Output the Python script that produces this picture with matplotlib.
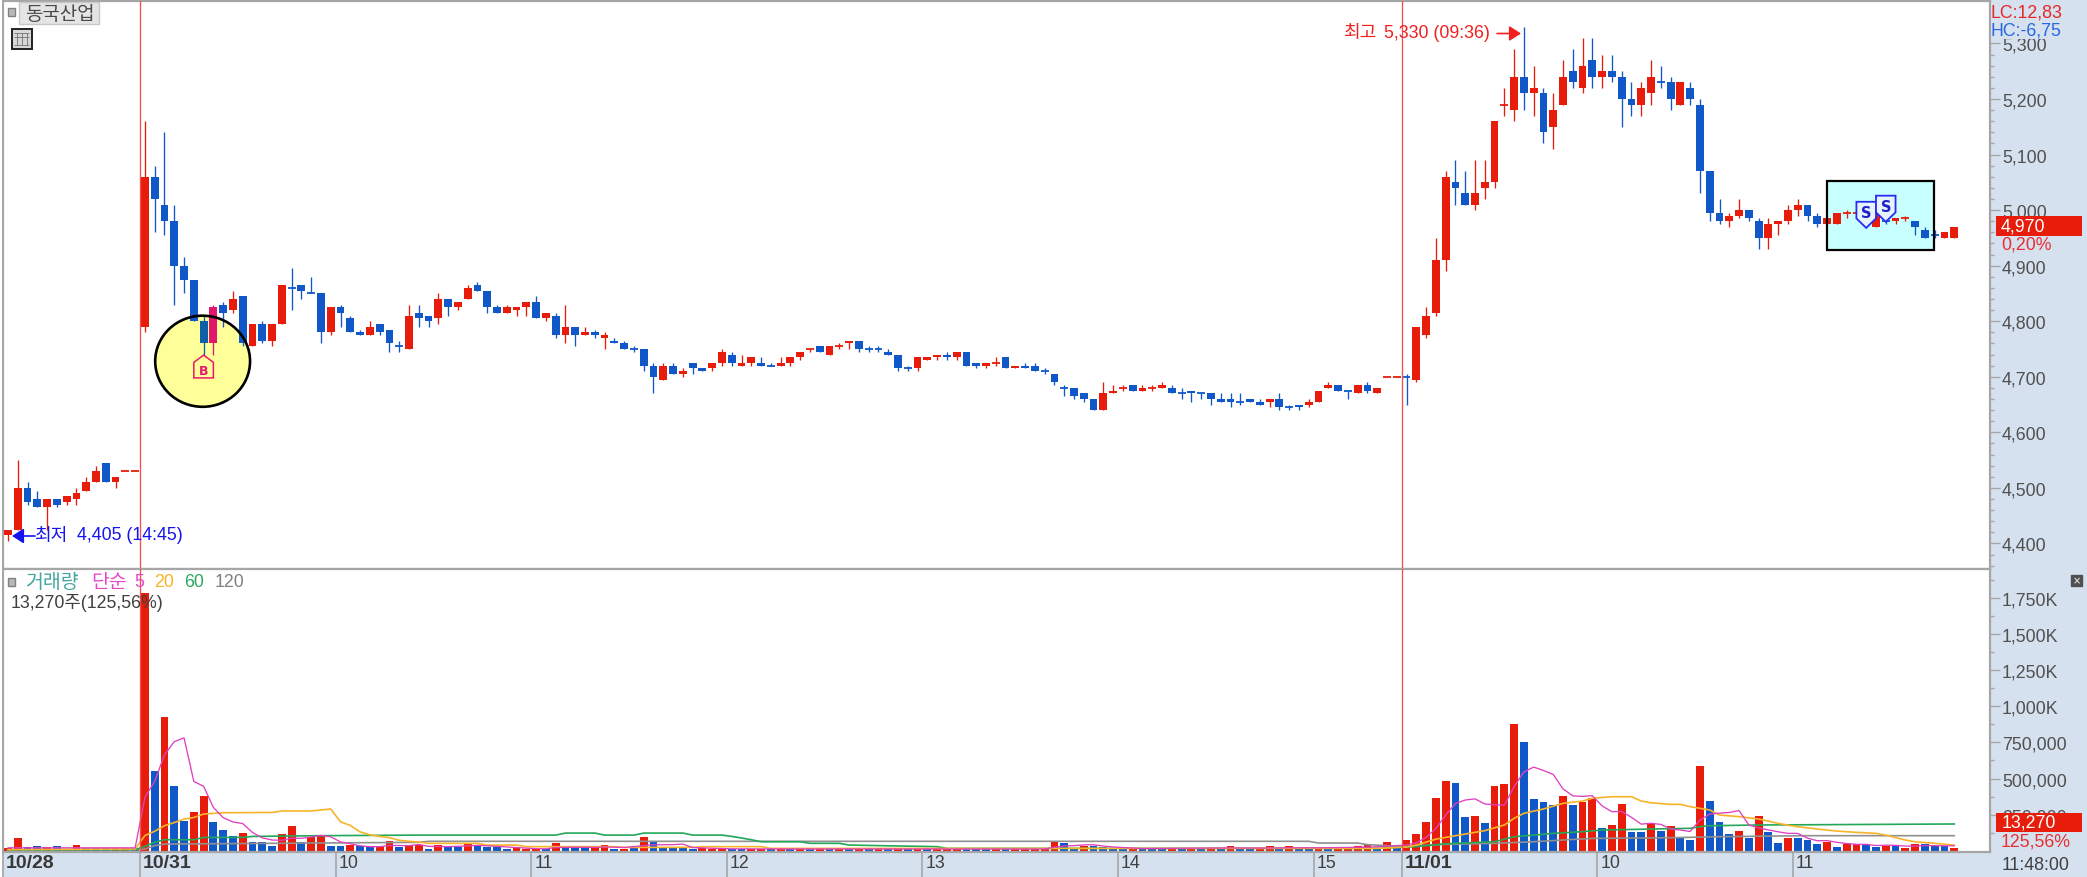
import numpy as np
import matplotlib
matplotlib.use("Agg")
import matplotlib.pyplot as plt
from matplotlib.patches import Rectangle, Ellipse, Polygon
from matplotlib.transforms import ScaledTranslation

W, H = 2087, 878
LATIN = ["Liberation Sans", "Noto Sans CJK KR", "DejaVu Sans"]
KOREAN = ["Noto Sans CJK KR", "DejaVu Sans"]
plt.rcParams["font.family"] = LATIN

# 1 minute candles, body top / body bottom / high / low
tops = [4425,4500,4500,4480,4480,4480,4485,4490,4510,4530,
        4545,4520,4530,4530,5060,5060,5010,4980,4900,4875,
        4800,4825,4830,4840,4845,4795,4795,4795,4865,4860,
        4865,4850,4850,4825,4825,4805,4780,4790,4795,4785,
        4755,4810,4815,4810,4840,4840,4835,4860,4865,4855,
        4825,4825,4825,4835,4835,4815,4810,4790,4790,4780,
        4780,4775,4765,4760,4750,4750,4720,4720,4720,4710,
        4725,4715,4725,4745,4740,4725,4735,4725,4720,4725,
        4735,4745,4750,4755,4755,4755,4765,4765,4750,4750,
        4745,4740,4715,4735,4735,4740,4740,4745,4745,4725,
        4725,4725,4735,4720,4720,4720,4710,4705,4680,4680,
        4670,4660,4670,4675,4680,4685,4680,4680,4685,4680,
        4670,4675,4670,4670,4660,4660,4655,4660,4655,4660,
        4660,4645,4650,4655,4675,4685,4685,4675,4685,4685,
        4680,4700,4700,4700,4790,4810,4910,5060,5050,5030,
        5030,5050,5160,5190,5240,5240,5220,5210,5180,5240,
        5250,5260,5270,5250,5250,5240,5200,5220,5240,5230,
        5230,5230,5220,5190,5070,4995,4990,5000,5000,4980,
        4975,4980,5000,5010,5010,4990,4985,4995,4995,4995,
        4990,4995,4980,4985,4985,4980,4965,4955,4960,4970]
bots = [4415,4425,4475,4465,4465,4470,4475,4480,4495,4510,
        4510,4510,4530,4530,4790,5020,4980,4900,4875,4800,
        4760,4760,4815,4820,4760,4755,4765,4765,4795,4860,
        4855,4850,4780,4780,4815,4780,4775,4775,4780,4760,
        4755,4750,4805,4800,4805,4825,4825,4840,4855,4825,
        4815,4815,4820,4825,4805,4805,4775,4775,4775,4775,
        4775,4770,4760,4750,4750,4720,4700,4695,4705,4705,
        4715,4710,4715,4725,4725,4720,4725,4720,4720,4720,
        4725,4735,4750,4745,4740,4755,4760,4750,4750,4750,
        4740,4715,4715,4715,4730,4735,4735,4735,4720,4720,
        4720,4725,4715,4715,4715,4710,4710,4690,4680,4665,
        4660,4640,4640,4670,4680,4675,4675,4680,4680,4670,
        4670,4670,4670,4660,4655,4655,4655,4655,4650,4655,
        4645,4645,4645,4650,4655,4680,4675,4675,4670,4675,
        4670,4700,4700,4700,4695,4775,4815,4910,5040,5010,
        5010,5040,5050,5190,5180,5210,5210,5140,5150,5190,
        5230,5220,5240,5240,5240,5200,5190,5190,5210,5230,
        5200,5190,5200,5070,4995,4980,4980,4990,4985,4950,
        4950,4975,4980,5000,4990,4975,4975,4975,4995,4995,
        4990,4970,4980,4980,4985,4970,4950,4955,4950,4950]
highs = [4425,4550,4510,4495,4480,4480,4485,4500,4520,4540,
         4545,4520,4530,4530,5160,5080,5140,5010,4915,4875,
         4810,4830,4835,4855,4845,4795,4800,4795,4865,4895,
         4865,4880,4850,4825,4830,4810,4785,4800,4795,4785,
         4765,4830,4830,4810,4850,4840,4835,4865,4870,4855,
         4830,4830,4825,4835,4845,4815,4815,4830,4790,4790,
         4785,4780,4770,4765,4755,4750,4725,4725,4725,4715,
         4725,4715,4725,4750,4745,4740,4735,4735,4725,4735,
         4735,4745,4750,4755,4755,4760,4765,4765,4755,4755,
         4750,4740,4720,4735,4735,4740,4745,4745,4745,4725,
         4725,4735,4735,4720,4725,4725,4715,4705,4685,4680,
         4670,4660,4690,4685,4685,4685,4685,4685,4690,4685,
         4680,4675,4670,4670,4670,4670,4670,4660,4660,4660,
         4670,4650,4650,4660,4675,4690,4685,4675,4685,4690,
         4680,4700,4700,4705,4790,4825,4950,5070,5090,5070,
         5090,5090,5160,5220,5290,5330,5260,5220,5210,5270,
         5290,5310,5310,5280,5280,5250,5230,5230,5270,5260,
         5240,5230,5230,5200,5070,5020,4995,5020,5000,4985,
         4985,4980,5010,5020,5010,4995,4985,4995,5000,4995,
         4995,4995,4980,4985,4990,4980,4970,4965,4960,4970]
lows = [4405,4425,4470,4465,4425,4465,4470,4470,4495,4510,
        4510,4500,4530,4530,4780,4960,4955,4830,4850,4800,
        4740,4740,4790,4815,4755,4755,4760,4755,4795,4820,
        4840,4850,4760,4775,4790,4780,4775,4775,4775,4745,
        4745,4750,4790,4790,4795,4810,4820,4840,4855,4815,
        4815,4815,4810,4810,4805,4800,4770,4760,4755,4775,
        4770,4750,4760,4750,4745,4710,4670,4695,4705,4700,
        4705,4710,4710,4720,4720,4720,4720,4720,4720,4720,
        4720,4730,4745,4745,4740,4750,4750,4745,4745,4745,
        4740,4710,4710,4710,4730,4730,4730,4730,4720,4715,
        4715,4720,4715,4715,4715,4710,4705,4685,4665,4660,
        4655,4640,4640,4670,4675,4675,4675,4675,4680,4670,
        4660,4655,4660,4650,4655,4645,4650,4655,4650,4645,
        4640,4640,4640,4645,4655,4680,4675,4660,4670,4670,
        4670,4700,4700,4650,4690,4770,4810,4890,5010,5010,
        5000,5020,5040,5170,5160,5180,5170,5120,5110,5190,
        5220,5210,5220,5220,5230,5150,5170,5170,5190,5220,
        5180,5190,5190,5030,4980,4975,4970,4985,4980,4930,
        4930,4955,4975,4990,4980,4970,4975,4975,4985,4995,
        4990,4970,4975,4975,4980,4955,4950,4950,4950,4950]
candle_side = ("RRBBRBRRRR" "BRRRRBBBBB" "BRBRBRBRRB" "BBBRBBBRBB" "BRBBRBRRBB"
               "BRRRBRBRBR" "BRBBBBBRBR" "BBRRBRRBBR" "RRRBRRRBBB" "BBBRRRBRBB"
               "RRBRBBBBBB" "BBRRRBRRRB" "BBBBBBBBBR" "BBBRRRBBRB" "RRRBRRRRBB"
               "RRRRRBRBRR" "BRBRBBBRRB" "BRBBBBRRBB" "RRRRBBRRRR" "BRBRRBBBRR")

# volume in thousand shares
volumes = [18,90,23,35,28,35,12,42,16,16,
           16,16,16,16,1785,550,924,446,208,270,
           381,196,143,104,122,58,58,30,113,173,
           58,92,108,30,30,39,30,23,23,69,
           23,39,39,12,39,23,23,51,35,23,
           23,12,16,12,12,12,55,23,23,23,
           23,39,12,12,16,92,65,23,23,23,
           12,16,12,12,12,12,12,12,12,16,
           12,16,12,12,12,12,12,12,12,12,
           12,12,12,12,12,16,12,12,12,12,
           12,12,12,12,12,12,12,65,51,18,
           35,35,23,12,12,12,12,12,12,12,
           12,12,12,12,12,30,12,12,12,30,
           12,30,12,12,12,12,12,12,30,39,
           12,58,20,72,115,200,367,483,471,233,
           242,192,450,459,877,753,358,335,316,376,
           316,335,363,159,178,326,129,129,187,139,
           171,90,76,586,346,201,118,139,88,242,
           132,55,85,85,76,44,62,25,44,44,
           44,25,35,35,21,44,44,30,30,20]
volume_side = ("RRBBRBRRBB" "BRRBRBRBBR" "RBBBRBBBRR" "BRRBBRBBRR" "BRRBRBBRBB"
               "BBRRRBRBBB" "RRBRBRBBBB" "BRRRBBRRBR" "BRBRBRBRBR" "BRBRBRRRBB"
               "BRBRRRRRBB" "RBBBBRBBBR" "BRBRBRBBRR" "BRBBRBRRRR" "BRBRRRRRBB"
               "RBRRRBBBBR" "BRRBRRBBRB" "RBBRBBBRBR" "BBRBBBRBRR" "BBRBRRBBBR")

# moving averages (candle index, thousand shares)
ma5_x = [0,13,14,15,16,17,18,19,20,21,22,23,24,25,26,27,28,29,30,31,32,33,34,35,36,37,38,39,40,41,42,
         43,45,47,48,50,52,54,55,56,58,60,61,63,65,66,68,69,70,72,74,80,106,107,108,109,110,111,112,113,114,116,
         125,128,131,134,139,143,144,145,146,147,148,149,150,151,152,153,154,155,156,157,158,159,160,161,162,163,164,
         165,166,167,168,169,170,171,172,173,174,175,176,177,178,179,180,181,182,183,184,185,186,187,188,189,190,191,
         192,193,194,195,196,197,198,199]
ma5_y = [20,20,370,480,665,755,782,480,446,300,229,199,188,126,89,74,72,86,86,95,106,96,61,48,34,28,28,36,36,35,43,
         30,28,33,37,30,22,14,13,22,24,23,26,22,35,41,42,46,22,17,13,12,12,24,33,35,40,41,32,26,22,15,
         19,18,20,20,24,39,55,92,154,247,327,351,359,324,318,315,444,546,579,556,528,428,380,376,381,310,270,
         272,231,184,190,182,151,143,133,212,254,260,265,278,178,158,144,131,120,120,87,69,70,58,50,44,44,36,
         38,37,32,32,36,35,34,34]
ma20_x = [0,13,14,15,16,17,18,19,20,22,27,28,31,33,34,35,36,37,38,39,40,41,42,43,48,49,52,53,62,63,70,71,77,78,
          140,143,144,146,148,150,151,153,154,155,157,159,161,162,164,166,167,168,170,171,172,174,175,177,179,180,
          181,183,185,187,189,191,192,194,195,197,199]
ma20_y = [8,12,105,135,173,195,219,230,254,263,265,275,275,289,200,175,130,110,100,90,72,65,60,51,51,39,39,28,28,23,23,
          28,28,16,16,25,39,80,104,127,139,178,224,259,289,328,344,363,374,374,344,332,321,321,305,282,247,236,219,205,
          189,166,150,136,127,120,108,74,62,51,39]
ma60_x = [0,13,14,15,16,19,20,24,25,32,42,56,57,60,61,64,65,69,70,73,74,75,76,77,81,82,85,86,95,96,140,144,147,152,
          154,156,158,161,163,168,172,173,174,179,199]
ma60_y = [6,8,30,58,76,76,92,92,99,104,108,108,122,122,108,108,122,122,108,108,99,88,76,62,62,51,51,39,28,16,16,28,48,62,
          97,108,120,132,143,150,155,166,173,178,185]
ma120_x = [0,13,14,15,16,42,43,133,134,138,139,143,144,147,152,156,159,162,170,175,184,199]
ma120_y = [5,6,12,35,46,58,65,65,53,53,42,28,35,44,51,62,74,85,90,97,104,104]

# price axis and volume axis
price_ticks = list(range(4400, 5301, 100))
price_minor = list(range(4360, 5361, 20))
volume_ticks = [250, 500, 750, 1000, 1250, 1500, 1750]
volume_minor = [125, 375, 625, 875, 1125, 1375, 1625, 1875]
volume_labels = ["250,000", "500,000", "750,000", "1,000K", "1,250K", "1,500K", "1,750K"]
date_pos = [0, 14, 34, 54, 74, 94, 114, 134, 143, 163, 183]
date_labels = ["10/28", "10/31", "10", "11", "12", "13", "14", "15", "11/01", "10", "11"]
date_bold = ["10/28", "10/31", "11/01"]
open_idx = [14, 143]

buy_idx, buy_price = [20], [4739]
sell_idx, sell_price = [190, 192], [4968, 4979]

RED, BLUE = "#E81C0A", "#1058C8"
PANEL = "#D6E1EF"
FRAME = "#A6A6A6"
TEXT = "#505050"
TS = 12.8
n = len(tops)
x = np.arange(n)

fig = plt.figure(figsize=(W / 100, H / 100), dpi=100, facecolor=PANEL)


def box(x0, y0, x1, y1):
    return [x0 / W, 1 - y1 / H, (x1 - x0) / W, (y1 - y0) / H]


LEFT, RIGHT = 3, 1990
ax = fig.add_axes(box(LEFT, 2, RIGHT, 570))
ax2 = fig.add_axes(box(LEFT, 570, RIGHT, 853))
ov = fig.add_axes([0, 0, 1, 1], zorder=10)
ov.set_xlim(0, W)
ov.set_ylim(H, 0)
ov.axis("off")
ov.patch.set_alpha(0)

xlim = ((LEFT - 8) / 9.78, (RIGHT - 8) / 9.78)
ax.set_xlim(xlim)
ax.set_ylim(5200 - (570 - 100) / 0.5556, 5200 + (100 - 2) / 0.5556)
ax2.set_xlim(xlim)
ax2.set_ylim(-(853 - 851.7) * 6.927, (851.7 - 570) * 6.927)

# signal circle and box go under the candles
ax.add_patch(Ellipse((19.9, 4728), 9.7, 164, fc="#FFFF99", ec="none", zorder=1))
ax.add_patch(Rectangle((185.95, 4929), 10.95, 124, fc="#C8FFFF", ec="none", zorder=1))

tint = {20: "#1060A8", 21: "#E0186C"}
for i in x:
    col = RED if candle_side[i] == "R" else BLUE
    col = tint.get(i, col)
    if highs[i] > lows[i]:
        ax.vlines(i, lows[i], highs[i], color=col, lw=0.95, zorder=2)
    if tops[i] > bots[i]:
        ax.bar(i, tops[i] - bots[i], bottom=bots[i], width=0.8, color=col, lw=0, zorder=3)
    else:
        ax.hlines(tops[i], i - 0.4, i + 0.4, color=col, lw=1.3, zorder=3)

ax.add_patch(Ellipse((19.9, 4728), 9.7, 164, fc="none", ec="black", lw=1.9, zorder=4))
ax.add_patch(Rectangle((185.95, 4929), 10.95, 124, fc="none", ec="black", lw=1.6, zorder=4))

for i, p in zip(buy_idx, buy_price):
    ax.add_patch(Polygon([(i, p), (i + 1, p - 13), (i + 1, p - 41), (i - 1, p - 41), (i - 1, p - 13)],
                         fc="none", ec="#E8186C", lw=1.1, zorder=5))
    ax.text(i, p - 27, "B", color="#E8186C", fontsize=9, fontweight="bold", ha="center", va="center",
            family="DejaVu Sans", zorder=6)
for i, p in zip(sell_idx, sell_price):
    ax.add_patch(Polygon([(i, p), (i + 1, p + 17), (i + 1, p + 47), (i - 1, p + 47), (i - 1, p + 17)],
                         fc="#E6F4FF", ec="#2A2AF0", lw=1.3, zorder=5))
    ax.text(i, p + 27, "S", color="#2020C8", fontsize=10.5, fontweight="bold", ha="center", va="center",
            family="DejaVu Sans", zorder=6)

# volume bars and averages
bar_cols = [RED if s == "R" else BLUE for s in volume_side]
ax2.bar(x, volumes, width=0.8, color=bar_cols, lw=0, zorder=2)
ax2.plot(ma120_x, ma120_y, color="#909090", lw=1.2, zorder=3)
ax2.plot(ma60_x, ma60_y, color="#22A858", lw=1.2, zorder=4)
ax2.plot(ma20_x, ma20_y, color="#F8B428", lw=1.2, zorder=5)
ax2.plot(ma5_x, ma5_y, color="#E040C0", lw=0.95, zorder=6)

for a in (ax, ax2):
    a.set_facecolor("white")
    for s in a.spines.values():
        s.set_color(FRAME)
        s.set_linewidth(1.6)
    a.yaxis.tick_right()
    a.tick_params(axis="y", which="major", length=7, width=1, color=FRAME, labelcolor=TEXT, labelsize=TS, pad=1.5)
    a.tick_params(axis="y", which="minor", length=3, width=1, color=FRAME)
    for i in open_idx:
        a.axvline(i - 0.5, color="#F05050", lw=0.95, zorder=7)

ax.set_yticks(price_ticks)
ax.set_yticks(price_minor, minor=True)
ax.set_yticklabels([f"{v:,}" for v in price_ticks])
ax.set_xticks([])
ax2.set_yticks(volume_ticks)
ax2.set_yticks(volume_minor, minor=True)
ax2.set_yticklabels(volume_labels)

ax2.set_xticks([d - 0.5 for d in date_pos])
ax2.set_xticklabels(date_labels)
ax2.tick_params(axis="x", length=18, width=1.2, color=FRAME, labelcolor="#404040", labelsize=TS, pad=-16.5)
shift = ScaledTranslation(3 / 72 * 0.72, 0, fig.dpi_scale_trans)
for lab in ax2.get_xticklabels():
    lab.set_ha("left")
    lab.set_transform(lab.get_transform() + shift)
    if lab.get_text() in date_bold:
        lab.set_fontweight("bold")
        lab.set_fontsize(14)
        lab.set_color("#383838")

# chrome: left margin, title button, icons
ov.add_patch(Rectangle((0, 0), 2, H, fc="white", ec="none"))
ov.add_patch(Rectangle((19, 3), 80, 22, fc="#E4E4E4", ec="#C8C8C8", lw=1))
ov.text(25, 14, "동국산업", color="#484848", fontsize=13.6, family=KOREAN, va="center")
ov.add_patch(Rectangle((8, 9), 7, 8, fc="#B8B8B8", ec="#808080", lw=1))
ov.add_patch(Rectangle((11.5, 30), 20, 20, fc="#D8D8D8", ec="#202020", lw=1.4))
ov.vlines([17, 22, 27], 34, 46, color="#808080", lw=0.7)
ov.hlines([34, 38, 46], 14, 29, color="#808080", lw=0.7)
ov.add_patch(Rectangle((8, 579), 7, 8, fc="#B8B8B8", ec="#808080", lw=1))

# extreme labels
ov.text(34, 536, "최저", color="#1414F0", fontsize=13, family=KOREAN, va="center")
ov.text(77, 536, "4,405 (14:45)", color="#1414F0", fontsize=TS, va="center")
ov.annotate("", xy=(12, 537), xytext=(35, 537),
            arrowprops=dict(arrowstyle="-|>,head_width=0.45,head_length=0.7", color="#1414F0", lw=1.2, shrinkA=0, shrinkB=0))
ov.text(1343, 33, "최고", color="#F02020", fontsize=13, family=KOREAN, va="center")
ov.text(1490, 33, "5,330 (09:36)", color="#F02020", fontsize=TS, va="center", ha="right")
ov.annotate("", xy=(1521, 34.5), xytext=(1497, 34.5),
            arrowprops=dict(arrowstyle="-|>,head_width=0.45,head_length=0.7", color="#F02020", lw=1.2, shrinkA=0, shrinkB=0))

# right side labels
ov.add_patch(Rectangle((1991, 3), 96, 37, fc=PANEL, ec="none"))
ov.text(1991, 13, "LC:12,83", color="#E82828", fontsize=TS, va="center")
ov.text(1991, 31, "HC:-6,75", color="#2868E0", fontsize=TS, va="center")
ov.add_patch(Rectangle((1996, 217), 86, 20, fc=RED, ec="none"))
ov.text(2001, 227, "4,970", color="white", fontsize=TS, va="center")
ov.text(2001, 245, "0,20%", color="#E83030", fontsize=TS, va="center")
ov.add_patch(Rectangle((1996, 814), 86, 19, fc=RED, ec="none"))
ov.text(2002, 823.5, "13,270", color="white", fontsize=TS, va="center")
ov.text(2001, 842, "125,56%", color="#E83030", fontsize=TS, va="center")
ov.text(2002, 866, "11:48:00", color="#404040", fontsize=TS, va="center")
ov.add_patch(Rectangle((2071, 576), 11, 11, fc="#505050", ec="#505050"))
ov.text(2076.5, 581.5, "×", color="white", fontsize=7, ha="center", va="center", family="DejaVu Sans")

# volume header
ov.text(25, 583, "거래량", color="#45A5A0", fontsize=14, family=KOREAN, va="center")
ov.text(91, 583, "단순", color="#E848C8", fontsize=14, family=KOREAN, va="center")
ov.text(134, 583, "5", color="#E848C8", fontsize=TS, va="center")
ov.text(154, 583, "20", color="#F8B428", fontsize=TS, va="center")
ov.text(184, 583, "60", color="#28A860", fontsize=TS, va="center")
ov.text(215, 583, "120", color="#808080", fontsize=TS, va="center")
ov.text(11, 603, "13,270주(125,56%)", color="#404040", fontsize=TS, va="center")

fig.savefig("out.png", dpi=100, facecolor=PANEL)
